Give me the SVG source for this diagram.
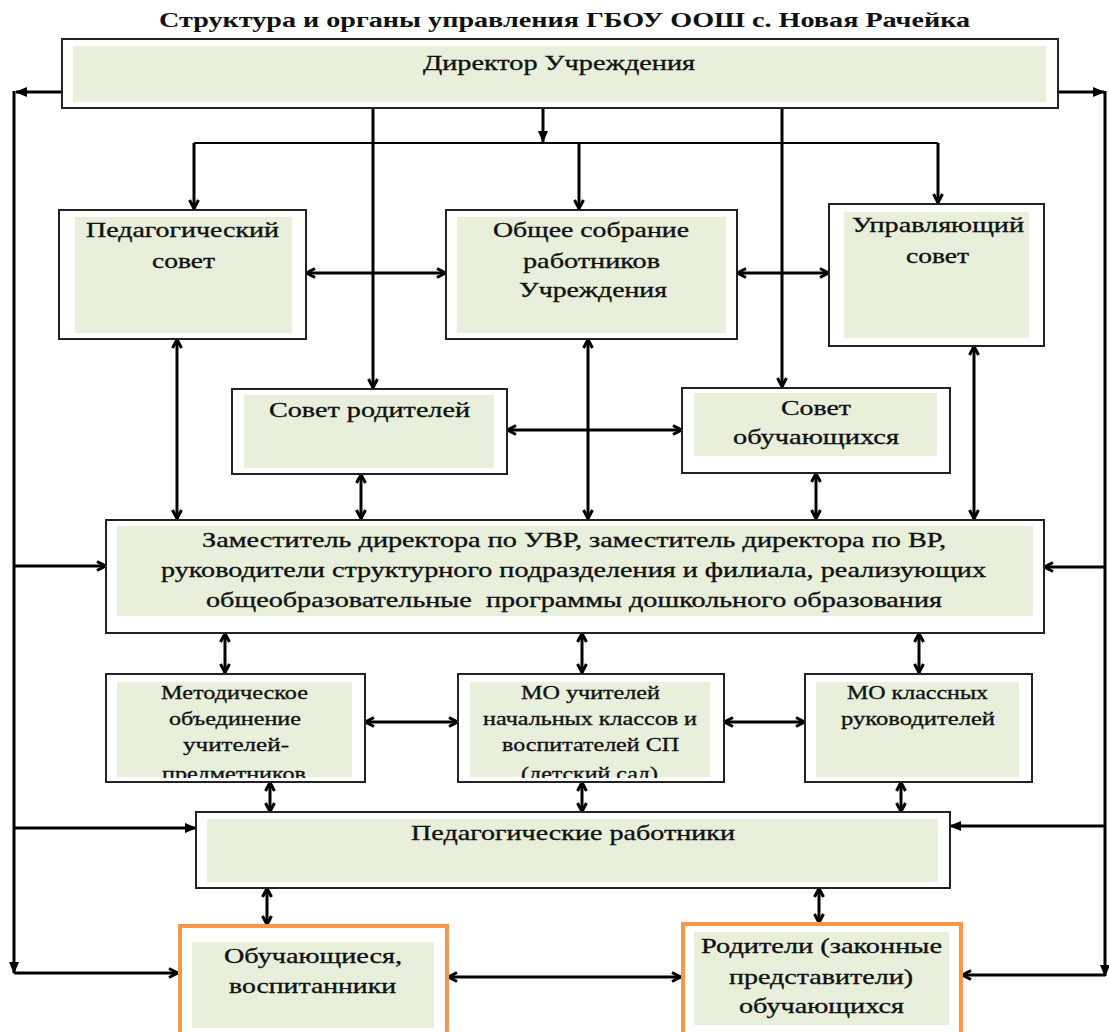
<svg xmlns="http://www.w3.org/2000/svg" width="1109" height="1032" viewBox="0 0 1109 1032">
<style>
.bg{fill:#ffffff}
.box{fill:#ffffff;stroke:#222;stroke-width:2}
.obox{fill:#ffffff;stroke:#f79646;stroke-width:4}
.in{fill:#e8f0dc}
.t{font-family:"Liberation Serif","Times New Roman",serif;font-size:22px;fill:#111;stroke:#111;stroke-width:0.35}
.s{font-family:"Liberation Serif","Times New Roman",serif;font-size:18px;fill:#111;stroke:#111;stroke-width:0.3}
.title{font-family:"Liberation Serif","Times New Roman",serif;font-size:21px;font-weight:bold;fill:#111}
.c{fill:none;stroke:#000;stroke-width:3}
.thin{fill:none;stroke:#000;stroke-width:2}
.d{marker-start:url(#ah);marker-end:url(#ah)}
.e{marker-end:url(#ah)}
.f{marker-end:url(#af)}
</style>
<defs>
<marker id="ah" viewBox="0 0 12 12" refX="11" refY="6" markerWidth="12" markerHeight="12" markerUnits="userSpaceOnUse" orient="auto-start-reverse">
<path d="M2,1.5 L10.5,6 L2,10.5" fill="none" stroke="#000" stroke-width="3"/>
</marker>
<marker id="af" viewBox="0 0 12 12" refX="11" refY="6" markerWidth="12" markerHeight="12" markerUnits="userSpaceOnUse" orient="auto-start-reverse">
<path d="M0,1 L12,6 L0,11 z" fill="#000"/>
</marker>
<clipPath id="clipMO"><rect x="0" y="0" width="1109" height="778"/></clipPath>
</defs>
<rect class="bg" x="0" y="0" width="1109" height="1032"/>
<text class="title" x="159" y="27" textLength="811" lengthAdjust="spacingAndGlyphs">Структура и органы управления ГБОУ ООШ с. Новая Рачейка</text>

<g id="connectors">
<path class="c f" d="M62,92 H16"/>
<path class="c f" d="M14,91 V973"/>
<path class="c e" d="M14,566 H106"/>
<path class="c f" d="M14,828 H196"/>
<path class="c e" d="M14,973 H178"/>
<path class="c f" d="M1058,92 H1104"/>
<path class="c f" d="M1105,91 V976"/>
<path class="c e" d="M1105,567 H1044"/>
<path class="c f" d="M1105,826 H950"/>
<path class="c e" d="M1105,975 H962"/>
<path class="c f" d="M543,108 V142"/>
<path class="thin" d="M194,143 H938"/>
<path class="c e" d="M194,143 V209"/>
<path class="c e" d="M579,143 V209"/>
<path class="c e" d="M938,143 V203"/>
<path class="c e" d="M373,108 V388"/>
<path class="c e" d="M782,108 V387"/>
<path class="c d" d="M306,273 H446"/>
<path class="c d" d="M737,273 H829"/>
<path class="c d" d="M177,339 V519"/>
<path class="c d" d="M588,339 V519"/>
<path class="c d" d="M974,346 V519"/>
<path class="c d" d="M507,430 H682"/>
<path class="c d" d="M361,474 V519"/>
<path class="c d" d="M816,473 V519"/>
<path class="c d" d="M225,633 V673"/>
<path class="c d" d="M582,633 V673"/>
<path class="c d" d="M919,633 V673"/>
<path class="c d" d="M365,722 H458"/>
<path class="c d" d="M724,722 H805"/>
<path class="c d" d="M270,782 V812"/>
<path class="c d" d="M582,782 V812"/>
<path class="c d" d="M901,782 V812"/>
<path class="c d" d="M267,888 V925"/>
<path class="c d" d="M819,888 V923"/>
<path class="c d" d="M448,977 H681"/>
</g>

<g id="director">
<rect class="box" x="62" y="39" width="996" height="69"/>
<rect class="in" x="73" y="46" width="973" height="56"/>
<text class="t" x="423" y="70" textLength="272" lengthAdjust="spacingAndGlyphs">Директор Учреждения</text>
</g>

<g id="ped-sovet">
<rect class="box" x="59" y="210" width="247" height="129"/>
<rect class="in" x="75" y="217" width="217" height="116"/>
<text class="t" x="86" y="237" textLength="193" lengthAdjust="spacingAndGlyphs">Педагогический</text>
<text class="t" x="152" y="268" textLength="63" lengthAdjust="spacingAndGlyphs">совет</text>
</g>

<g id="obshchee-sobranie">
<rect class="box" x="446" y="210" width="291" height="129"/>
<rect class="in" x="457" y="217" width="269" height="116"/>
<text class="t" x="493" y="237" textLength="196" lengthAdjust="spacingAndGlyphs">Общее собрание</text>
<text class="t" x="523" y="268" textLength="137" lengthAdjust="spacingAndGlyphs">работников</text>
<text class="t" x="519" y="297" textLength="148" lengthAdjust="spacingAndGlyphs">Учреждения</text>
</g>

<g id="upr-sovet">
<rect class="box" x="829" y="204" width="215" height="142"/>
<rect class="in" x="844" y="212" width="185" height="126"/>
<text class="t" x="852" y="232" textLength="172" lengthAdjust="spacingAndGlyphs">Управляющий</text>
<text class="t" x="906" y="263" textLength="63" lengthAdjust="spacingAndGlyphs">совет</text>
</g>

<g id="sovet-roditeley">
<rect class="box" x="232" y="389" width="275" height="85"/>
<rect class="in" x="244" y="395" width="250" height="73"/>
<text class="t" x="269" y="417" textLength="201" lengthAdjust="spacingAndGlyphs">Совет родителей</text>
</g>

<g id="sovet-obuch">
<rect class="box" x="682" y="388" width="268" height="85"/>
<rect class="in" x="694" y="393" width="243" height="63"/>
<text class="t" x="781" y="415" textLength="70" lengthAdjust="spacingAndGlyphs">Совет</text>
<text class="t" x="733" y="444" textLength="166" lengthAdjust="spacingAndGlyphs">обучающихся</text>
</g>

<g id="zamestiteli">
<rect class="box" x="106" y="520" width="938" height="113"/>
<rect class="in" x="117" y="526" width="916" height="90"/>
<text class="t" x="202" y="547" textLength="744" lengthAdjust="spacingAndGlyphs">Заместитель директора по УВР, заместитель директора по ВР,</text>
<text class="t" x="161" y="577" textLength="825" lengthAdjust="spacingAndGlyphs">руководители структурного подразделения и филиала, реализующих</text>
<text class="t" x="206" y="607" textLength="736" lengthAdjust="spacingAndGlyphs" xml:space="preserve">общеобразовательные  программы дошкольного образования</text>
</g>

<g id="mo-predmetniki">
<rect class="box" x="106" y="674" width="259" height="108"/>
<rect class="in" x="117" y="682" width="235" height="95"/>
<text class="s" x="161" y="699" textLength="147" lengthAdjust="spacingAndGlyphs">Методическое</text>
<text class="s" x="169" y="725" textLength="132" lengthAdjust="spacingAndGlyphs">объединение</text>
<text class="s" x="183" y="751" textLength="106" lengthAdjust="spacingAndGlyphs">учителей-</text>
<text class="s" x="162" y="780" textLength="144" lengthAdjust="spacingAndGlyphs" clip-path="url(#clipMO)">предметников</text>
</g>

<g id="mo-nachalnye">
<rect class="box" x="458" y="674" width="266" height="108"/>
<rect class="in" x="470" y="682" width="240" height="95"/>
<text class="s" x="521" y="699" textLength="139" lengthAdjust="spacingAndGlyphs">МО учителей</text>
<text class="s" x="483" y="725" textLength="214" lengthAdjust="spacingAndGlyphs">начальных классов и</text>
<text class="s" x="502" y="751" textLength="177" lengthAdjust="spacingAndGlyphs">воспитателей СП</text>
<text class="s" x="521" y="780" textLength="137" lengthAdjust="spacingAndGlyphs" clip-path="url(#clipMO)">(детский сад)</text>
</g>

<g id="mo-klassnye">
<rect class="box" x="805" y="674" width="227" height="108"/>
<rect class="in" x="816" y="682" width="203" height="95"/>
<text class="s" x="847" y="699" textLength="141" lengthAdjust="spacingAndGlyphs">МО классных</text>
<text class="s" x="841" y="725" textLength="154" lengthAdjust="spacingAndGlyphs">руководителей</text>
</g>

<g id="ped-rabotniki">
<rect class="box" x="196" y="812" width="754" height="76"/>
<rect class="in" x="207" y="819" width="731" height="63"/>
<text class="t" x="411" y="840" textLength="324" lengthAdjust="spacingAndGlyphs">Педагогические работники</text>
</g>

<g id="obuchayushchiesya">
<rect class="obox" x="180" y="926" width="267" height="120"/>
<rect class="in" x="192" y="942" width="242" height="86"/>
<text class="t" x="224" y="963" textLength="178" lengthAdjust="spacingAndGlyphs">Обучающиеся,</text>
<text class="t" x="229" y="993" textLength="167" lengthAdjust="spacingAndGlyphs">воспитанники</text>
</g>

<g id="roditeli">
<rect class="obox" x="683" y="924" width="278" height="120"/>
<rect class="in" x="694" y="932" width="255" height="93"/>
<text class="t" x="701" y="953" textLength="241" lengthAdjust="spacingAndGlyphs">Родители (законные</text>
<text class="t" x="729" y="984" textLength="184" lengthAdjust="spacingAndGlyphs">представители)</text>
<text class="t" x="739" y="1013" textLength="165" lengthAdjust="spacingAndGlyphs">обучающихся</text>
</g>
</svg>
